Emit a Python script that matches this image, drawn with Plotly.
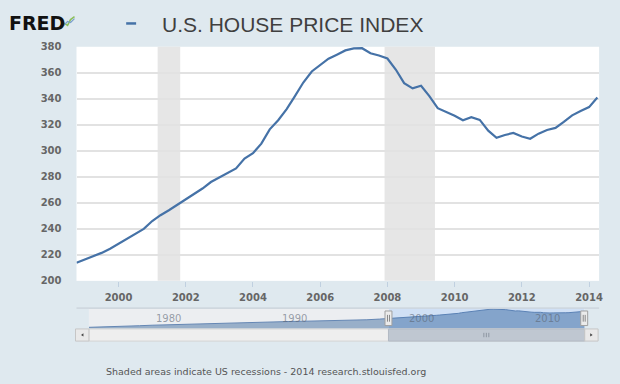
import pandas as pd
import plotly.graph_objects as go

# ---------------- data ----------------
# Quarterly U.S. house price index, 1998Q4 .. 2014Q2
hpi_values = [
    214.0, 216.5, 218.8, 221.5, 224.7, 228.5, 232.0, 236.0, 240.0, 246.0,
    250.5, 254.3, 258.5, 262.5, 266.5, 271.0, 276.0, 279.5, 282.5, 286.5,
    294.0, 298.2, 305.5, 316.5, 323.5, 332.0, 342.0, 352.5, 361.0, 366.0,
    370.8, 373.9, 377.2, 378.7, 378.9, 375.0, 373.3, 371.0, 362.5, 352.0,
    348.0, 350.0, 342.0, 332.8, 330.2, 327.0, 323.5, 325.8, 323.8, 315.5,
    310.0, 312.2, 313.7, 311.0, 309.3, 313.2, 316.0, 317.6, 322.2, 327.3,
    330.6, 333.6, 341.0,
]
hpi_dates = pd.date_range("1998-10-01", periods=len(hpi_values), freq="QS")

# Earlier history shown only in the navigator (annual, estimated)
hist_years = [str(y) + "-01-01" for y in range(1975, 1999)]
hist_values = [60, 64, 70, 78, 88, 97, 104, 108, 111, 116, 121, 129,
               137, 145, 153, 160, 163, 167, 170, 173, 178, 185, 193, 205]

recessions = [("2001-03-01", "2001-11-01"), ("2007-12-01", "2009-06-01")]

y_ticks = [200, 220, 240, 260, 280, 300, 320, 340, 360, 380]
x_tick_years = [2000, 2002, 2004, 2006, 2008, 2010, 2012, 2014]
nav_label_years = [1980, 1990, 2000, 2010]

title_text = "U.S. HOUSE PRICE INDEX"
footer_text = "Shaded areas indicate US recessions - 2014 research.stlouisfed.org"

# ---------------- geometry helpers ----------------
W, H = 620, 384
def px(x):
    return x / W
def py(y):
    return 1 - y / H

LINE = "#4572A7"
BG = "#dfe9ef"

fig = go.Figure()

# main series
fig.add_trace(go.Scatter(
    x=list(hpi_dates), y=hpi_values, mode="lines",
    line=dict(color=LINE, width=2.2), xaxis="x", yaxis="y",
    hoverinfo="skip", showlegend=False,
))

# navigator series
nav_x = [pd.Timestamp(d) for d in hist_years] + list(hpi_dates)
nav_y = hist_values + hpi_values
fig.add_trace(go.Scatter(
    x=nav_x, y=nav_y, mode="lines", fill="tozeroy",
    fillcolor="rgba(69,114,167,0.55)",
    line=dict(color="#5b82b5", width=1), xaxis="x2", yaxis="y2",
    hoverinfo="skip", showlegend=False,
))

shapes = []
# recession shading
for a, b in recessions:
    shapes.append(dict(type="rect", xref="x", yref="y domain", x0=a, x1=b,
                       y0=0, y1=1, fillcolor="#e6e6e6", line=dict(width=0),
                       layer="below"))

# navigator top line
shapes.append(dict(type="line", xref="paper", yref="paper",
                   x0=px(77), x1=px(603), y0=py(312), y1=py(312),
                   line=dict(color="#c4ccd4", width=1)))
# navigator selected range
shapes.append(dict(type="rect", xref="x2", yref="paper",
                   x0="1998-10-01", x1="2014-04-01", y0=py(333), y1=py(312.5),
                   fillcolor="rgba(120,165,225,0.35)", line=dict(width=0),
                   layer="below"))
# grey out unselected area
shapes.append(dict(type="rect", xref="x2", yref="paper",
                   x0="1975-01-01", x1="1998-10-01", y0=py(333), y1=py(312.5),
                   fillcolor="rgba(150,160,175,0.18)", line=dict(width=0),
                   layer="above"))
# scrollbar track
shapes.append(dict(type="rect", xref="paper", yref="paper",
                   x0=px(89.5), x1=px(588.5), y0=py(346), y1=py(333.5),
                   fillcolor="#eeeeee", line=dict(color="#d4d4d4", width=1)))
# scrollbar thumb
shapes.append(dict(type="rect", xref="paper", yref="paper",
                   x0=px(391), x1=px(588.5), y0=py(346), y1=py(333.5),
                   fillcolor="#bfc7d1", line=dict(color="#b2bac4", width=1)))
# grip on thumb
for gx in (487, 489.5, 492):
    shapes.append(dict(type="line", xref="paper", yref="paper",
                       x0=px(gx), x1=px(gx), y0=py(342), y1=py(337.5),
                       line=dict(color="#8d96a2", width=1)))
# scrollbar buttons
for bx0, bx1 in ((76, 89.5), (588.5, 602)):
    shapes.append(dict(type="rect", xref="paper", yref="paper",
                       x0=px(bx0), x1=px(bx1), y0=py(346), y1=py(333.5),
                       fillcolor="#e9e9e9", line=dict(color="#c6c6c6", width=1)))
# arrows in buttons
shapes.append(dict(type="path", xref="paper", yref="paper",
                   path=f"M {px(81.5)} {py(339.7)} L {px(84)} {py(338)} L {px(84)} {py(341.4)} Z",
                   fillcolor="#444", line=dict(width=0)))
shapes.append(dict(type="path", xref="paper", yref="paper",
                   path=f"M {px(596.5)} {py(339.7)} L {px(594)} {py(338)} L {px(594)} {py(341.4)} Z",
                   fillcolor="#444", line=dict(width=0)))
# navigator handles
for hx in (391, 588):
    shapes.append(dict(type="rect", xref="paper", yref="paper",
                       x0=px(hx - 3.5), x1=px(hx + 3.5), y0=py(330), y1=py(315),
                       fillcolor="#ebebeb", line=dict(color="#a0a0a0", width=1)))
    for gx in (hx - 1, hx + 1):
        shapes.append(dict(type="line", xref="paper", yref="paper",
                           x0=px(gx), x1=px(gx), y0=py(326), y1=py(319),
                           line=dict(color="#888", width=1)))

# legend dash next to title
shapes.append(dict(type="line", xref="paper", yref="paper",
                   x0=px(127), x1=px(137), y0=py(19), y1=py(19),
                   line=dict(color=LINE, width=2.5)))

# FRED mini chart icon
shapes.append(dict(type="path", xref="paper", yref="paper",
                   path=f"M {px(61)} {py(24)} L {px(65)} {py(19)} L {px(68)} {py(21)} L {px(71)} {py(15)} L {px(75)} {py(12)}",
                   line=dict(color="#8bbf5a", width=1.5)))
shapes.append(dict(type="path", xref="paper", yref="paper",
                   path=f"M {px(61)} {py(22)} L {px(64)} {py(21)} L {px(68)} {py(17)} L {px(71)} {py(18)} L {px(75)} {py(14)}",
                   line=dict(color="#7aa0cc", width=1.2)))

annotations = []
annotations.append(dict(text="<b>FRED</b>", x=px(7), y=py(19), xref="paper",
                        yref="paper", xanchor="left", yanchor="middle",
                        showarrow=False,
                        font=dict(family="DejaVu Sans", size=19, color="#111")))
annotations.append(dict(text=title_text, x=px(161), y=py(20), xref="paper",
                        yref="paper", xanchor="left", yanchor="middle",
                        showarrow=False,
                        font=dict(family="Liberation Sans Narrow, Liberation Sans, sans-serif",
                                  size=21, color="#3f3f3f")))
for yr in nav_label_years:
    annotations.append(dict(text=str(yr), x=f"{yr}-01-01", y=py(322.5),
                            xref="x2", yref="paper", xanchor="left",
                            yanchor="middle", xshift=2, showarrow=False,
                            font=dict(family="DejaVu Sans", size=10,
                                      color="rgba(90,100,115,0.6)")))
annotations.append(dict(text=footer_text, x=px(268), y=py(377), xref="paper",
                        yref="paper", xanchor="center", yanchor="middle",
                        showarrow=False,
                        font=dict(family="DejaVu Sans", size=9.5, color="#555")))

fig.update_layout(
    width=W, height=H,
    margin=dict(l=0, r=0, t=0, b=0),
    paper_bgcolor=BG, plot_bgcolor="white",
    showlegend=False,
    shapes=shapes, annotations=annotations,
    xaxis=dict(
        domain=[px(77), px(603)], type="date",
        range=["1998-10-01", "2014-04-20"],
        tickvals=[f"{y}-01-01" for y in x_tick_years],
        ticktext=[str(y) for y in x_tick_years],
        ticks="outside", ticklen=5, tickcolor="#c0d0e0",
        ticklabelstandoff=2,
        showgrid=False, zeroline=False, showline=False,
        tickfont=dict(family="DejaVu Sans", size=10, color="#666", weight="bold"),
        anchor="y", fixedrange=True,
    ),
    yaxis=dict(
        domain=[py(284), py(43)], range=[200, 380],
        tickvals=y_ticks, ticktext=[str(v) for v in y_ticks],
        showgrid=True, gridcolor="#e2e2e2", gridwidth=2,
        zeroline=False, showline=False, ticks="",
        ticklabelstandoff=14,
        tickfont=dict(family="DejaVu Sans", size=10, color="#666", weight="bold"),
        anchor="x", fixedrange=True,
    ),
    xaxis2=dict(
        domain=[px(89.5), px(588.5)], type="date",
        range=["1975-01-01", "2014-04-01"],
        showgrid=False, zeroline=False, showline=False,
        showticklabels=False, ticks="", anchor="y2", fixedrange=True,
    ),
    yaxis2=dict(
        domain=[py(333), py(312.5)], range=[40, 390],
        showgrid=False, zeroline=False, showline=False,
        showticklabels=False, ticks="", anchor="x2", fixedrange=True,
    ),
)

fig.write_html(
    "out.html",
    config={"displayModeBar": False},
    post_script=(
        "document.body.style.margin='0';"
        "document.body.style.padding='0';"
        "document.body.style.overflow='hidden';"
        "document.body.style.background='" + BG + "';"
    ),
)
